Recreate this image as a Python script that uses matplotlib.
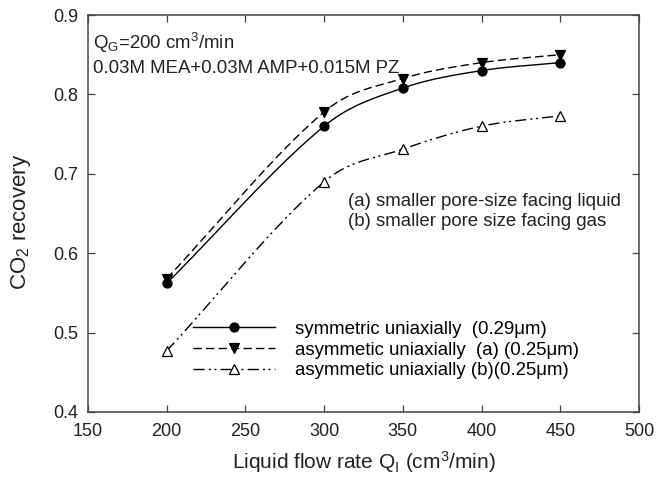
import numpy as np
import matplotlib
matplotlib.use('Agg')
import matplotlib.pyplot as plt

plt.rcParams['font.family'] = ['Liberation Sans', 'DejaVu Sans']
plt.rcParams['mathtext.fontset'] = 'custom'
plt.rcParams['mathtext.rm'] = 'Liberation Sans'
plt.rcParams['mathtext.it'] = 'Liberation Sans'

# data
flow = [200, 300, 350, 400, 450]
sym = [0.562, 0.760, 0.808, 0.830, 0.840]
asym_a = [0.568, 0.778, 0.820, 0.840, 0.850]
asym_b = [0.477, 0.690, 0.731, 0.760, 0.773]

labels = ['symmetric uniaxially  (0.29\u03bcm)',
          'asymmetic uniaxially  (a) (0.25\u03bcm)',
          'asymmetic uniaxially (b)(0.25\u03bcm)']


def smooth(x, y, xs):
    # cardinal (Catmull-Rom) curve through the measured points, drawing only
    x = np.asarray(x, float)
    y = np.asarray(y, float)
    n = len(x)
    m = np.empty(n)
    m[0] = (y[1] - y[0]) / (x[1] - x[0])
    m[-1] = (y[-1] - y[-2]) / (x[-1] - x[-2])
    m[1:-1] = (y[2:] - y[:-2]) / (x[2:] - x[:-2])
    out = np.empty_like(xs)
    for j, xv in enumerate(xs):
        k = min(np.searchsorted(x, xv, side='right') - 1, n - 2)
        h = x[k + 1] - x[k]
        t = (xv - x[k]) / h
        out[j] = ((2 * t**3 - 3 * t**2 + 1) * y[k] + (t**3 - 2 * t**2 + t) * h * m[k]
                  + (-2 * t**3 + 3 * t**2) * y[k + 1] + (t**3 - t**2) * h * m[k + 1])
    return out


fig = plt.figure(figsize=(6.7, 4.78), dpi=100)
ax = fig.add_axes([88 / 670, 66 / 478, 551 / 670, 397 / 478])

xs = np.linspace(flow[0], flow[-1], 300)
styles = [
    (sym, '-', 'o', 'black', 6.5),
    (asym_a, (0, (6, 3)), 'v', 'black', 7),
    (asym_b, (0, (8, 3, 1.5, 2.5, 1.5, 3)), '^', 'white', 7),
]
handles = []
for (ys, ls, mk, fc, ms), lab in zip(styles, labels):
    ax.plot(xs, smooth(flow, ys, xs), color='black', linestyle=ls, lw=1.0)
    ax.plot(flow, ys, linestyle='none', marker=mk, ms=ms,
            mfc=fc, mec='black', mew=0.9)
    h, = ax.plot([], [], color='black', linestyle=ls, lw=1.0, marker=mk,
                 ms=ms, mfc=fc, mec='black', mew=0.9)
    handles.append(h)

fig.legend(handles, labels, loc='center left',
           bbox_to_anchor=(193 / 670, (478 - 350) / 478),
           frameon=False, fontsize=13.4, handlelength=4.4, handletextpad=1.1,
           labelspacing=0.2, borderpad=0, borderaxespad=0)

tc = '#222222'
ax.text(0.009, 0.929, 'Q$_\\mathrm{G}$=200 cm$^\\mathrm{3}$/min',
        transform=ax.transAxes, fontsize=13.4, va='center', color=tc)
ax.text(0.009, 0.866, '0.03M MEA+0.03M AMP+0.015M PZ',
        transform=ax.transAxes, fontsize=13.4, va='center', color=tc)
ax.text(0.472, 0.529, '(a) smaller pore-size facing liquid',
        transform=ax.transAxes, fontsize=13.4, va='center', color=tc)
ax.text(0.472, 0.479, '(b) smaller pore size facing gas',
        transform=ax.transAxes, fontsize=13.4, va='center', color=tc)

ax.set_xlim(150, 500)
ax.set_ylim(0.4, 0.9)
ax.set_xticks(np.arange(150, 501, 50))
ax.set_yticks(np.arange(0.4, 0.91, 0.1))
ax.set_yticklabels(['0.4', '0.5', '0.6', '0.7', '0.8', '0.9'])
ax.tick_params(direction='in', top=True, right=True, length=5, width=0.9,
               labelsize=13, colors='#444444', labelcolor=tc, pad=7)
ax.tick_params(axis='x', pad=8)
for s in ax.spines.values():
    s.set_color('#444444')
    s.set_linewidth(1.1)

ax.set_xlabel('Liquid flow rate Q$_\\mathrm{I}$ (cm$^\\mathrm{3}$/min)',
              fontsize=15, color=tc)
ax.set_ylabel('CO$_\\mathrm{2}$ recovery', fontsize=16, color=tc)
ax.xaxis.set_label_coords(0.5, -0.093)
ax.yaxis.set_label_coords(-0.1, 0.479)

fig.savefig('out.png', dpi=100)
